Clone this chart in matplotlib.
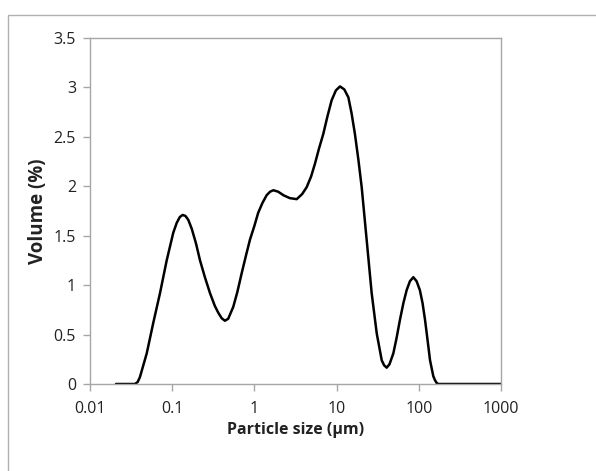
import matplotlib.pyplot as plt
from matplotlib.patches import Rectangle
from matplotlib.ticker import FixedLocator, FixedFormatter, NullLocator

plt.rcParams["font.family"] = ["Open Sans", "DejaVu Sans"]

# particle size (um) and volume (%)
size_um = [0.0207, 0.0352, 0.038, 0.0405, 0.049, 0.0589, 0.0711, 0.0857, 0.103, 0.1135,
           0.124, 0.134, 0.145, 0.157, 0.173, 0.195, 0.218, 0.25, 0.288, 0.33,
           0.364, 0.40, 0.438, 0.48, 0.553, 0.62, 0.70, 0.79, 0.883, 1.0,
           1.11, 1.25, 1.41, 1.55, 1.70, 1.95, 2.25, 2.7, 3.27, 3.8,
           4.32, 4.9, 5.46, 6.1, 6.89, 7.7, 8.7, 9.8, 11.0, 12.4,
           13.9, 15.2, 16.7, 18.4, 20.2, 23.2, 26.7, 30.8, 35.4, 37.8,
           40.7, 44.0, 49.0, 53.5, 59.0, 65.0, 71.2, 78.0, 85.8, 94.0,
           103, 111, 119, 128, 137, 150, 157, 165, 173, 1000]
volume_pct = [0.0, 0.0, 0.02, 0.07, 0.31, 0.62, 0.92, 1.25, 1.53, 1.63,
              1.69, 1.71, 1.70, 1.66, 1.57, 1.42, 1.25, 1.08, 0.92, 0.79,
              0.72, 0.665, 0.64, 0.66, 0.78, 0.93, 1.12, 1.30, 1.46, 1.60,
              1.73, 1.83, 1.91, 1.945, 1.96, 1.945, 1.91, 1.88, 1.87, 1.92,
              1.99, 2.10, 2.23, 2.38, 2.53, 2.70, 2.87, 2.97, 3.01, 2.98,
              2.90, 2.74, 2.53, 2.27, 1.99, 1.46, 0.92, 0.51, 0.24, 0.19,
              0.165, 0.20, 0.31, 0.46, 0.65, 0.82, 0.95, 1.04, 1.08, 1.04,
              0.95, 0.82, 0.65, 0.44, 0.24, 0.08, 0.04, 0.01, 0.0, 0.0]

x_ticks = [0.01, 0.1, 1, 10, 100, 1000]
x_tick_labels = ["0.01", "0.1", "1", "10", "100", "1000"]
y_ticks = [0, 0.5, 1, 1.5, 2, 2.5, 3, 3.5]
y_tick_labels = ["0", "0.5", "1", "1.5", "2", "2.5", "3", "3.5"]

fig = plt.figure(figsize=(5.96, 4.71), dpi=100)
ax = fig.add_axes([90 / 596, 1 - 384 / 471, 411 / 596, 346 / 471])

ax.plot(size_um, volume_pct, color="black", linewidth=1.8,
        solid_joinstyle="round", solid_capstyle="round")

ax.set_xscale("log")
ax.set_xlim(0.01, 1000)
ax.set_ylim(0, 3.5)
ax.xaxis.set_major_locator(FixedLocator(x_ticks))
ax.xaxis.set_major_formatter(FixedFormatter(x_tick_labels))
ax.xaxis.set_minor_locator(NullLocator())
ax.set_yticks(y_ticks)
ax.set_yticklabels(y_tick_labels)

for s in ax.spines.values():
    s.set_color("#a6a6a6")
    s.set_linewidth(1.0)
ax.tick_params(axis="both", colors="#a6a6a6", labelcolor="#222222",
               labelsize=11.5, length=5, width=1.0, direction="out")
ax.tick_params(axis="x", pad=7)
ax.tick_params(axis="y", pad=5)

ax.set_xlabel("Particle size (\u00b5m)", fontsize=11.5, fontweight="bold", color="#222222", labelpad=4)
ax.set_ylabel("Volume (%)", fontsize=13.5, fontweight="bold", color="#222222", labelpad=4)

# outer chart frame
fig.patches.append(Rectangle((8 / 596, -0.05), 1.2, 1 - 15 / 471 + 0.05,
                             transform=fig.transFigure, fill=False,
                             edgecolor="#b0b0b0", linewidth=1.0))

fig.savefig("out.png", dpi=100)
